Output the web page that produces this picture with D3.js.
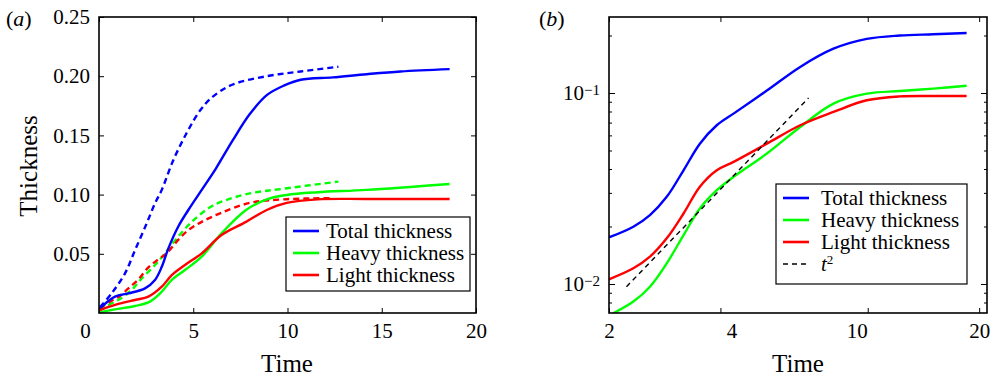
<!DOCTYPE html>
<html>
<head>
<meta charset="utf-8">
<script src="https://cdn.jsdelivr.net/npm/d3@7"></script>
<style>
  body { margin: 0; background: #fff; }
  text { font-family: 'Liberation Serif', 'Times New Roman', serif; fill: #000; }
</style>
</head>
<body>
<div id="chart"></div>
<script>
// ---- panel (a): linear axes, solid = run 1, dashed = run 2
const xTicksA = [0, 5, 10, 15, 20];
const yTicksA = [0.05, 0.10, 0.15, 0.20, 0.25];

const tTotalA = [0.05, 0.85, 1.56, 2.44, 2.97, 3.33, 3.68, 4.2, 4.74, 5.45, 6.2, 7.1, 8.0, 8.9, 9.8, 10.7, 12.4, 14.2, 16, 18.6];
const totalA  = [0.004, 0.0138, 0.0166, 0.0208, 0.0279, 0.039, 0.0546, 0.0729, 0.087, 0.104, 0.122, 0.146, 0.168, 0.184, 0.192, 0.197, 0.199, 0.2017, 0.204, 0.206];
const tHeavyA = [0.05, 0.85, 1.91, 2.7, 3.33, 3.86, 4.56, 5.45, 6.5, 7.8, 8.9, 9.96, 11.6, 14.2, 18.6];
const heavyA  = [0.0006, 0.0031, 0.0059, 0.0096, 0.018, 0.0279, 0.0363, 0.0476, 0.0673, 0.087, 0.096, 0.0997, 0.102, 0.104, 0.109];
const tLightA = [0.05, 0.85, 1.91, 2.62, 3.33, 3.86, 4.56, 5.45, 6.5, 7.8, 8.9, 9.96, 11.6, 14.2, 18.6];
const lightA  = [0.0025, 0.0068, 0.011, 0.0138, 0.0222, 0.032, 0.0405, 0.0504, 0.0659, 0.077, 0.087, 0.093, 0.096, 0.0963, 0.0963];

const tTotal2A = [0.05, 0.67, 1.38, 1.91, 2.53, 2.97, 3.33, 3.94, 4.65, 5.36, 6.06, 7.1, 8.9, 10.7, 12.7];
const total2A  = [0.005, 0.0166, 0.0335, 0.053, 0.0757, 0.0926, 0.104, 0.129, 0.152, 0.171, 0.183, 0.193, 0.2, 0.204, 0.208];
const tHeavy2A = [0.05, 0.32, 1.02, 1.73, 2.26, 2.97, 3.5, 4.2, 4.92, 5.8, 6.5, 8.0, 9.8, 12.7];
const heavy2A  = [0.002, 0.0053, 0.011, 0.0194, 0.029, 0.0405, 0.0504, 0.0645, 0.077, 0.0884, 0.094, 0.101, 0.105, 0.111];
const tLight2A = [0.05, 0.58, 1.11, 1.56, 2.09, 2.62, 3.06, 3.59, 4.2, 4.74, 5.45, 6.5, 8.0, 9.8, 12.4];
const light2A  = [0.004, 0.0096, 0.0144, 0.0208, 0.0284, 0.0386, 0.0442, 0.0504, 0.0617, 0.07, 0.077, 0.0847, 0.093, 0.096, 0.097];

// ---- panel (b): log-log axes
const xTicksB = [2, 4, 10, 20];
const yMajorB = [0.01, 0.1];
const yMinorB = [0.008, 0.009, 0.02, 0.03, 0.04, 0.05, 0.06, 0.07, 0.08, 0.09, 0.2];

const tB     = [2, 2.327, 2.58, 2.864, 3.18, 3.52, 3.91, 4.34, 5.34, 6.57, 8.08, 9.94, 12.2, 15.05, 18.5];
const totalB = [0.01754, 0.01995, 0.02295, 0.0286, 0.0394, 0.0543, 0.0678, 0.078, 0.103, 0.137, 0.1706, 0.192, 0.2, 0.203, 0.206];
const lightB = [0.01058, 0.01208, 0.0139, 0.01734, 0.0234, 0.0323, 0.0394, 0.0436, 0.0543, 0.0678, 0.0796, 0.0916, 0.096, 0.0965, 0.0965];
const tHeavyB = [2.054, 2.327, 2.58, 2.864, 3.18, 3.52, 3.91, 4.34, 5.34, 6.57, 8.08, 9.94, 12.2, 15.05, 18.5];
const heavyB  = [0.00703, 0.00809, 0.00968, 0.01282, 0.01803, 0.02483, 0.03097, 0.0364, 0.0482, 0.0664, 0.088, 0.0992, 0.1024, 0.1054, 0.1092];
const tSqB   = [2.23, 6.92];
const sqB    = [0.00968, 0.0942];

const legendNames = ["Total thickness", "Heavy thickness", "Light thickness"];
const colors = ["#0000ff", "#00ff00", "#ff0000"];

const W = 991, H = 379;
const svg = d3.select("#chart").append("svg").attr("width", W).attr("height", H);

const zip = (t, v) => t.map((d, i) => [d, v[i]]);

function frame(x0, y0, x1, y1) {
  svg.append("rect")
     .attr("x", x0).attr("y", y0)
     .attr("width", x1 - x0).attr("height", y1 - y0)
     .attr("fill", "none").attr("stroke", "#000").attr("stroke-width", 1.6);
}

function styleAxis(g) {
  g.select(".domain").remove();
  g.selectAll("line").attr("stroke", "#000").attr("stroke-width", 1);
  g.selectAll("text").style("font-size", "21px").attr("fill", "#000")
   .style("font-family", "'Liberation Serif', 'Times New Roman', serif");
}

function legend(x, y, w, h, rows, lineX0, textX) {
  svg.append("rect").attr("x", x).attr("y", y).attr("width", w).attr("height", h)
     .attr("fill", "#fff").attr("stroke", "#000").attr("stroke-width", 1.2);
  rows.forEach((r, i) => {
    const cy = y + 14 + i * 22;
    svg.append("line").attr("x1", lineX0).attr("x2", lineX0 + 26).attr("y1", cy).attr("y2", cy)
       .attr("stroke", r.color).attr("stroke-width", r.dash ? 1.4 : 2.6)
       .attr("stroke-dasharray", r.dash ? "5,4" : null);
    const t = svg.append("text").attr("x", textX).attr("y", cy + 7).style("font-size", "21px");
    if (r.sq) {
      t.append("tspan").style("font-style", "italic").text("t");
      t.append("tspan").attr("dy", -7).style("font-size", "13px").text("2");
    } else {
      t.text(r.name);
    }
  });
}

// ================= panel (a)
const xA = d3.scaleLinear().domain([0, 20]).range([99, 476]);
const yA = d3.scaleLinear().domain([0, 0.25]).range([313, 17]);

svg.append("g").attr("transform", "translate(0,313)")
   .call(d3.axisBottom(xA).tickValues(xTicksA).tickSize(-5).tickPadding(10).tickFormat(d => d))
   .call(styleAxis)
   .selectAll("text").filter(d => d === 0).attr("dx", -14);
svg.append("g").attr("transform", "translate(0,17)")
   .call(d3.axisTop(xA).tickValues(xTicksA).tickSize(-5).tickFormat(""))
   .call(styleAxis);
svg.append("g").attr("transform", "translate(99,0)")
   .call(d3.axisLeft(yA).tickValues(yTicksA).tickSize(-5).tickPadding(9).tickFormat(d3.format(".2f")))
   .call(styleAxis);
svg.append("g").attr("transform", "translate(476,0)")
   .call(d3.axisRight(yA).tickValues(yTicksA).tickSize(-5).tickFormat(""))
   .call(styleAxis);

const lineA = d3.line().x(d => xA(d[0])).y(d => yA(d[1])).curve(d3.curveCatmullRom.alpha(0.5));

const seriesA = [
  { data: zip(tTotal2A, total2A), c: 0, dash: true },
  { data: zip(tHeavy2A, heavy2A), c: 1, dash: true },
  { data: zip(tLight2A, light2A), c: 2, dash: true },
  { data: zip(tTotalA, totalA), c: 0 },
  { data: zip(tHeavyA, heavyA), c: 1 },
  { data: zip(tLightA, lightA), c: 2 }
];
svg.append("g").selectAll("path").data(seriesA).enter().append("path")
   .attr("d", d => lineA(d.data))
   .attr("fill", "none")
   .attr("stroke", d => colors[d.c])
   .attr("stroke-width", 2.4)
   .attr("stroke-dasharray", d => d.dash ? "6,4" : null);

frame(99, 17, 476, 313);

legend(286, 217, 184, 74,
  legendNames.map((n, i) => ({ name: n, color: colors[i] })), 293, 326);

svg.append("text").attr("x", 287).attr("y", 372).attr("text-anchor", "middle")
   .style("font-size", "25px").text("Time");
svg.append("text").attr("transform", "translate(37,166) rotate(-90)").attr("text-anchor", "middle")
   .style("font-size", "25px").text("Thickness");
const la = svg.append("text").attr("x", 6).attr("y", 26).style("font-size", "22px");
la.append("tspan").text("(");
la.append("tspan").style("font-style", "italic").text("a");
la.append("tspan").text(")");

// ================= panel (b)
const xB = d3.scaleLog().domain([2, 21]).range([609, 987]);
const yB = d3.scaleLog().domain([0.00705, 0.25]).range([313, 17]);
const labelShiftB = { 4: 11, 10: -11 };

svg.append("g").attr("transform", "translate(0,313)")
   .call(d3.axisBottom(xB).tickValues(xTicksB).tickSize(-5).tickPadding(10).tickFormat(d => d))
   .call(styleAxis)
   .selectAll("text").attr("dx", d => labelShiftB[d] || 0);
svg.append("g").attr("transform", "translate(0,17)")
   .call(d3.axisTop(xB).tickValues(xTicksB).tickSize(-5).tickFormat(""))
   .call(styleAxis);

svg.append("g").attr("transform", "translate(609,0)")
   .call(d3.axisLeft(yB).tickValues(yMajorB).tickSize(-6).tickPadding(9).tickFormat(""))
   .call(styleAxis)
   .selectAll("text").each(function(d) {
     const t = d3.select(this);
     t.text("10");
     t.append("tspan").attr("dy", "-0.38em").style("font-size", "15px")
      .text("\u2212" + Math.round(-Math.log10(d)));
   });
svg.append("g").attr("transform", "translate(609,0)")
   .call(d3.axisLeft(yB).tickValues(yMinorB).tickSize(-3).tickFormat(""))
   .call(styleAxis);
svg.append("g").attr("transform", "translate(987,0)")
   .call(d3.axisRight(yB).tickValues(yMajorB).tickSize(-6).tickFormat(""))
   .call(styleAxis);
svg.append("g").attr("transform", "translate(987,0)")
   .call(d3.axisRight(yB).tickValues(yMinorB).tickSize(-3).tickFormat(""))
   .call(styleAxis);

const lineB = d3.line().x(d => xB(d[0])).y(d => yB(d[1])).curve(d3.curveCatmullRom.alpha(0.5));

svg.append("clipPath").attr("id", "clipB").append("rect")
   .attr("x", 609).attr("y", 17).attr("width", 378).attr("height", 296);

const seriesB = [
  { data: zip(tB, totalB), c: 0 },
  { data: zip(tHeavyB, heavyB), c: 1 },
  { data: zip(tB, lightB), c: 2 }
];
const gB = svg.append("g").attr("clip-path", "url(#clipB)");
gB.selectAll("path.s").data(seriesB).enter().append("path")
   .attr("class", "s")
   .attr("d", d => lineB(d.data))
   .attr("fill", "none")
   .attr("stroke", d => colors[d.c])
   .attr("stroke-width", 2.4);
gB.append("path")
   .attr("d", d3.line().x(d => xB(d[0])).y(d => yB(d[1]))(zip(tSqB, sqB)))
   .attr("fill", "none").attr("stroke", "#000").attr("stroke-width", 1.4)
   .attr("stroke-dasharray", "5,4");

frame(609, 17, 987, 313);

legend(776, 184, 191, 100,
  legendNames.map((n, i) => ({ name: n, color: colors[i] })).concat([{ color: "#000", dash: true, sq: true }]),
  783, 821);

svg.append("text").attr("x", 798).attr("y", 372).attr("text-anchor", "middle")
   .style("font-size", "25px").text("Time");
const lb = svg.append("text").attr("x", 539).attr("y", 26).style("font-size", "22px");
lb.append("tspan").text("(");
lb.append("tspan").style("font-style", "italic").text("b");
lb.append("tspan").text(")");
</script>
</body>
</html>
